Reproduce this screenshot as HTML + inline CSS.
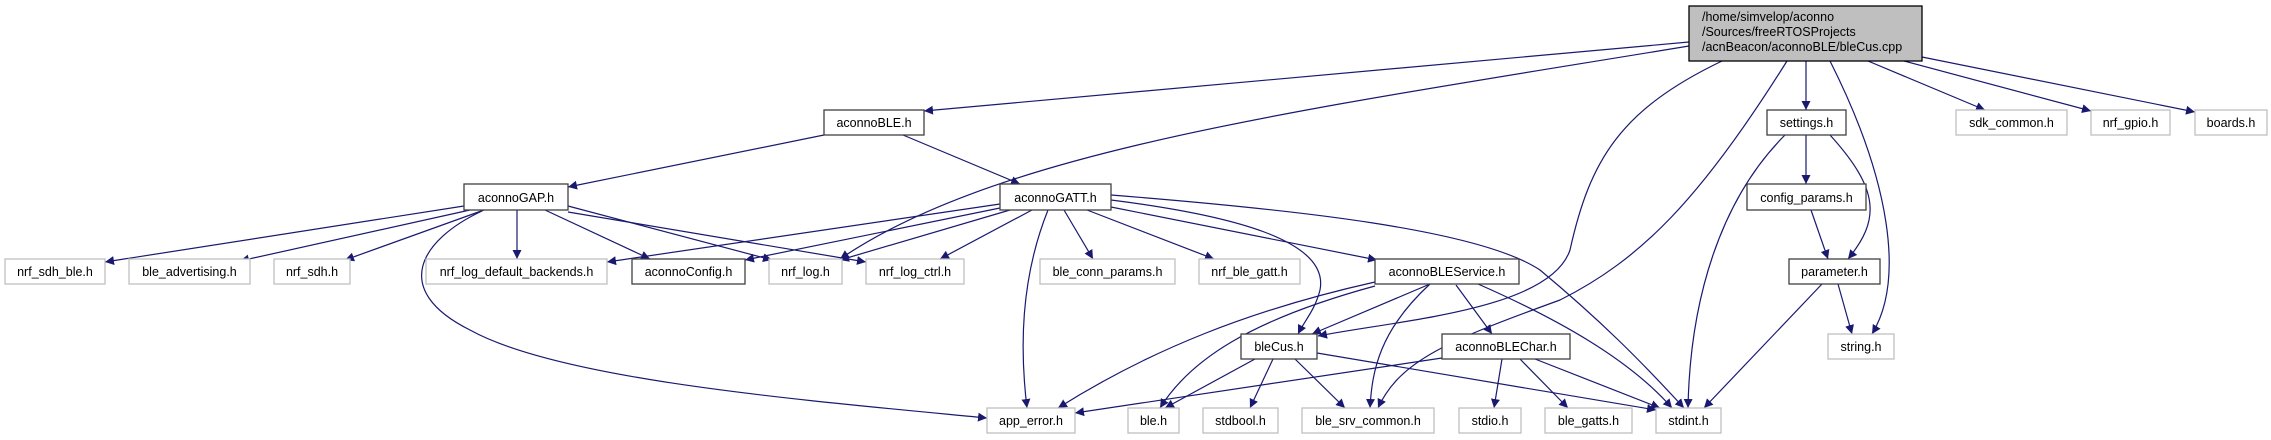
<!DOCTYPE html>
<html><head><meta charset="utf-8"><style>
html,body{margin:0;padding:0;background:#fff;}
svg{display:block;}
text{font-family:"Liberation Sans",sans-serif;font-size:12.5px;fill:#000;}
.e{fill:none;stroke:#191970;stroke-width:1.2;}
.b{fill:#fff;stroke:#404040;stroke-width:1.3;}
.g{fill:#fff;stroke:#bfbfbf;stroke-width:1.3;}
</style></head><body>
<svg width="2271" height="440" viewBox="0 0 2271 440" xmlns="http://www.w3.org/2000/svg">
<defs><marker id="a" viewBox="0 0 10 10" refX="10" refY="5" markerWidth="9" markerHeight="9" markerUnits="userSpaceOnUse" orient="auto"><path d="M0,0 L10,5 L0,10 z" fill="#191970"/></marker></defs>
<g class="e" marker-end="url(#a)">
<!-- root -->
<path d="M1689,42 L924,111"/>
<path d="M1689,46 C1300,110 1000,150 840,259"/>
<path d="M1722,61 C1620,110 1590,160 1570,250 C1550,310 1400,320 1318,336"/>
<path d="M1787,61 C1700,200 1640,260 1560,300 C1450,340 1400,360 1378,408"/>
<path d="M1806,61 L1806,110"/>
<path d="M1830,61 C1890,180 1905,280 1872,334"/>
<path d="M1868,61 L1985,110"/>
<path d="M1904,61 L2091,111"/>
<path d="M1922,57 L2195,112"/>
<!-- settings -->
<path d="M1806,135 L1806,184"/>
<path d="M1830,135 C1880,190 1880,220 1848,259"/>
<path d="M1785,135 C1720,200 1690,300 1688,408"/>
<path d="M1811,210 L1828,259"/>
<path d="M1838,284 L1852,334"/>
<path d="M1822,284 L1704,408"/>
<!-- aconnoBLE -->
<path d="M824,135 L568,187"/>
<path d="M903,135 L1020,184"/>
<!-- aconnoGAP -->
<path d="M464,206 L105,262"/>
<path d="M470,210 L240,261"/>
<path d="M484,210 L345,260"/>
<path d="M482,211 C420,240 390,290 470,330 C560,380 800,400 987,418"/>
<path d="M517,210 L517,259"/>
<path d="M545,210 L650,259"/>
<path d="M568,206 L772,260"/>
<path d="M568,212 L866,262"/>
<!-- aconnoGATT -->
<path d="M1000,204 L607,262"/>
<path d="M1000,208 L745,260"/>
<path d="M1010,210 L840,260"/>
<path d="M1032,210 L940,259"/>
<path d="M1048,210 C1020,280 1020,350 1027,408"/>
<path d="M1064,210 L1093,259"/>
<path d="M1087,210 L1214,259"/>
<path d="M1111,207 L1377,260"/>
<path d="M1111,200 C1230,215 1330,240 1320,290 C1315,310 1305,320 1298,334"/>
<path d="M1111,195 C1300,210 1480,230 1540,270 C1600,320 1640,360 1684,408"/>
<!-- aconnoBLEService -->
<path d="M1375,282 C1250,310 1150,350 1058,408"/>
<path d="M1375,286 C1250,320 1190,360 1160,408"/>
<path d="M1430,284 L1312,334"/>
<path d="M1430,284 C1380,330 1372,370 1370,408"/>
<path d="M1456,285 L1492,334"/>
<path d="M1478,284 C1560,320 1630,360 1672,408"/>
<!-- bleCus -->
<path d="M1255,359 L1165,408"/>
<path d="M1273,359 L1250,408"/>
<path d="M1295,359 L1345,408"/>
<path d="M1317,353 L1656,410"/>
<!-- aconnoBLEChar -->
<path d="M1442,358 L1075,413"/>
<path d="M1502,359 L1494,408"/>
<path d="M1520,359 L1568,408"/>
<path d="M1535,359 L1660,408"/>
</g>
<!-- nodes -->
<rect x="1689" y="6" width="233" height="55" fill="#bfbfbf" stroke="#000" stroke-width="1.3"/>
<text x="1702" y="21">/home/simvelop/aconno</text>
<text x="1702" y="36">/Sources/freeRTOSProjects</text>
<text x="1702" y="51">/acnBeacon/aconnoBLE/bleCus.cpp</text>
<g text-anchor="middle">
<rect class="b" x="824" y="110" width="100" height="25"/><text x="874" y="127">aconnoBLE.h</text>
<rect class="b" x="464" y="184" width="104" height="26"/><text x="516" y="202">aconnoGAP.h</text>
<rect class="b" x="1000" y="184" width="111" height="26"/><text x="1055.5" y="202">aconnoGATT.h</text>
<rect class="b" x="1767" y="110" width="79" height="25"/><text x="1806.5" y="127">settings.h</text>
<rect class="b" x="1747" y="184" width="119" height="26"/><text x="1806.5" y="202">config_params.h</text>
<rect class="g" x="1956" y="110" width="111" height="25"/><text x="2011.5" y="127" fill="#000">sdk_common.h</text>
<rect class="g" x="2091" y="110" width="79" height="25"/><text x="2130.5" y="127">nrf_gpio.h</text>
<rect class="g" x="2195" y="110" width="72" height="25"/><text x="2231" y="127">boards.h</text>
<rect class="g" x="5" y="259" width="100" height="25"/><text x="55" y="276">nrf_sdh_ble.h</text>
<rect class="g" x="129" y="259" width="121" height="25"/><text x="189.5" y="276">ble_advertising.h</text>
<rect class="g" x="274" y="259" width="76" height="25"/><text x="312" y="276">nrf_sdh.h</text>
<rect class="g" x="426" y="259" width="181" height="25"/><text x="516.5" y="276">nrf_log_default_backends.h</text>
<rect class="b" x="632" y="259" width="113" height="25"/><text x="688.5" y="276">aconnoConfig.h</text>
<rect class="g" x="769" y="259" width="73" height="25"/><text x="805.5" y="276">nrf_log.h</text>
<rect class="g" x="866" y="259" width="98" height="25"/><text x="915" y="276">nrf_log_ctrl.h</text>
<rect class="g" x="1040" y="259" width="135" height="25"/><text x="1107.5" y="276">ble_conn_params.h</text>
<rect class="g" x="1199" y="259" width="101" height="25"/><text x="1249.5" y="276">nrf_ble_gatt.h</text>
<rect class="b" x="1375" y="259" width="144" height="25"/><text x="1447" y="276">aconnoBLEService.h</text>
<rect class="b" x="1789" y="259" width="91" height="25"/><text x="1834.5" y="276">parameter.h</text>
<rect class="b" x="1241" y="334" width="76" height="25"/><text x="1279" y="351">bleCus.h</text>
<rect class="b" x="1442" y="334" width="128" height="25"/><text x="1506" y="351">aconnoBLEChar.h</text>
<rect class="g" x="1828" y="334" width="66" height="25"/><text x="1861" y="351">string.h</text>
<rect class="g" x="987" y="408" width="88" height="25"/><text x="1031" y="425">app_error.h</text>
<rect class="g" x="1128" y="408" width="51" height="25"/><text x="1153.5" y="425">ble.h</text>
<rect class="g" x="1203" y="408" width="75" height="25"/><text x="1240.5" y="425">stdbool.h</text>
<rect class="g" x="1302" y="408" width="132" height="25"/><text x="1368" y="425">ble_srv_common.h</text>
<rect class="g" x="1459" y="408" width="62" height="25"/><text x="1490" y="425">stdio.h</text>
<rect class="g" x="1545" y="408" width="87" height="25"/><text x="1588.5" y="425">ble_gatts.h</text>
<rect class="g" x="1656" y="408" width="65" height="25"/><text x="1688.5" y="425">stdint.h</text>
</g>
</svg>
</body></html>
